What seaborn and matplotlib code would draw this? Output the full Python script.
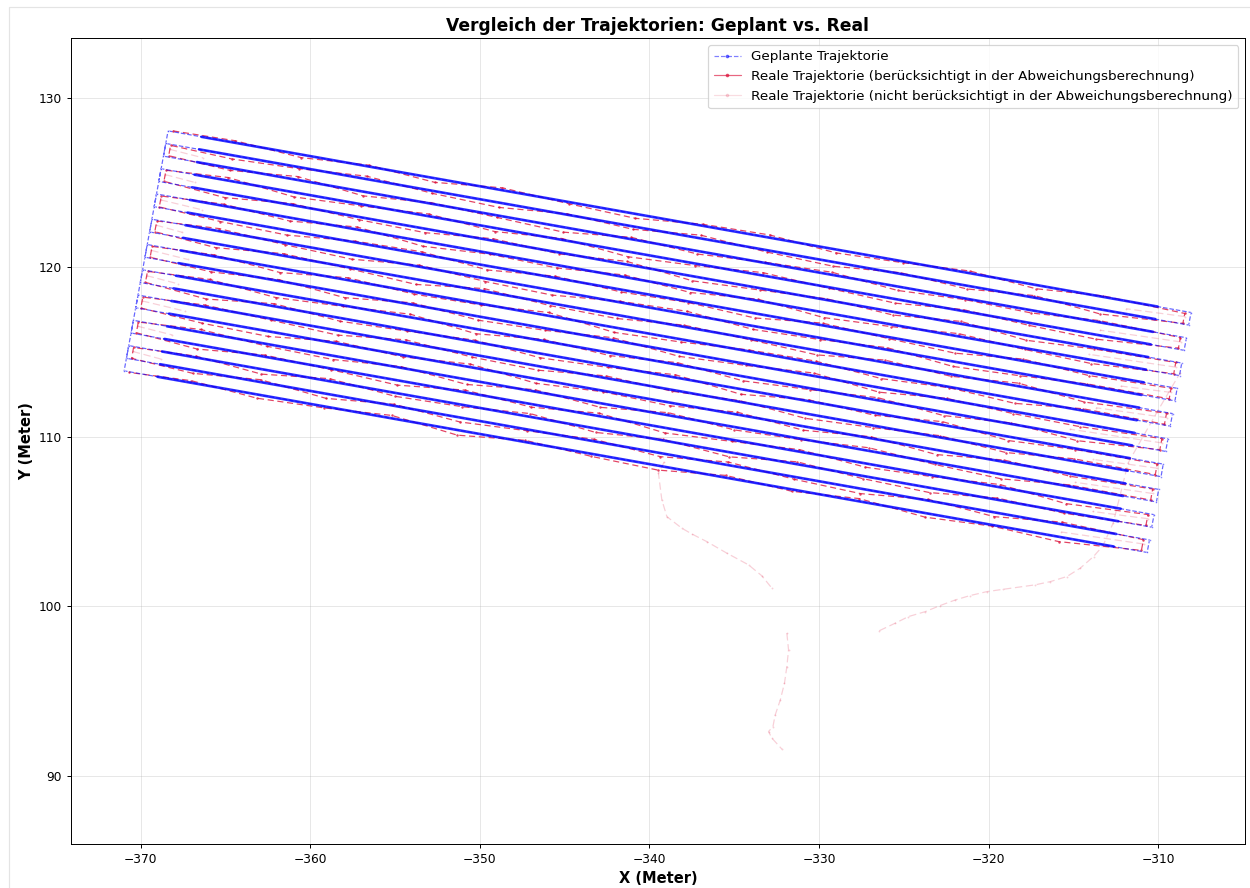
import numpy as np
import pandas as pd
import matplotlib
matplotlib.use("Agg")
import matplotlib.pyplot as plt
from matplotlib.lines import Line2D
from matplotlib.patches import Rectangle
import seaborn as sns

# Planned field lanes (meters), lane 0 is the northern one
lane_left_x = [-368.38, -368.52, -368.65, -368.79, -368.93, -369.06, -369.20, -369.33, -369.47, -369.61,
               -369.74, -369.88, -370.02, -370.15, -370.29, -370.42, -370.56, -370.70, -370.83, -370.97]
lane_left_y = [128.04, 127.30, 126.55, 125.81, 125.06, 124.32, 123.57, 122.83, 122.08, 121.34,
               120.59, 119.85, 119.10, 118.36, 117.61, 116.87, 116.12, 115.38, 114.63, 113.89]
lane_right_x = [-308.07, -308.21, -308.34, -308.48, -308.62, -308.75, -308.89, -309.02, -309.16, -309.30,
                -309.43, -309.57, -309.71, -309.84, -309.98, -310.11, -310.25, -310.39, -310.52, -310.66]
lane_right_y = [117.33, 116.59, 115.84, 115.10, 114.35, 113.61, 112.86, 112.12, 111.37, 110.63,
                109.88, 109.14, 108.39, 107.65, 106.90, 106.16, 105.41, 104.67, 103.92, 103.18]

# headland stretch at each lane end without dense waypoints (m)
dense_inset = 2.0

# real trajectory: stations along each lane (m from the west end)
stations = [0.3, 4, 8, 12, 16, 20, 24, 28, 32, 36, 40, 44, 48, 52, 56, 60.9]
# lateral deviation at those stations (cm, positive = north of the lane)
offsets_cm = [
    [5, 12, -18, 8, -24, 14, -10, -26, 9, 16, -20, -8, 13, -22, 6, -12],
    [-6, -22, -9, 17, -15, -28, 5, -17, 19, -11, -25, 7, -19, 12, -27, 4],
    [8, -14, 20, -25, 6, -12, -29, 11, -18, 4, 15, -23, -7, -16, 10, -5],
    [-4, 18, -27, -10, 13, -21, 8, -30, -12, 17, -6, -24, 9, -15, -26, 7],
    [6, -26, 9, -16, -23, 12, -8, 18, -27, -11, 7, -19, 14, -28, -9, -3],
    [-7, 10, -20, 15, -29, -6, -17, 12, -22, 9, -30, -13, 16, -8, -21, 5],
    [4, -18, -28, 7, 14, -24, 10, -14, -6, -27, 13, -9, -25, 11, -17, -6],
    [-5, 15, -11, -26, 9, -18, -28, 6, 17, -20, -10, 12, -29, -14, 8, 6],
    [7, -23, 12, -8, -30, 16, -15, -21, 10, -7, -26, 14, -12, 18, -24, -4],
    [-6, 9, -26, 14, -13, -7, 19, -29, -16, 8, 12, -22, -5, -28, 11, 5],
    [5, -17, 8, -29, 11, -22, -12, 15, -25, -9, 17, -27, 7, -13, -20, -5],
    [-4, 13, -24, -6, 18, -28, 9, -17, 12, -26, -8, 15, -21, 6, -29, 4],
    [6, -28, 15, -19, -7, 10, -25, -11, 16, -30, 8, -14, 19, -23, -6, -5],
    [-7, 11, -9, -27, 16, -16, -24, 13, -8, 7, -28, -12, 10, -20, 14, 6],
    [4, -21, -30, 12, -10, 18, -26, -6, -19, 14, -23, 9, -27, 11, -15, -4],
    [-5, 16, -13, -22, 7, -29, 11, -24, 15, -17, -5, 18, -11, -26, 9, 5],
    [7, -25, 10, -7, -28, 13, -18, 17, -30, -10, 12, -22, -8, 16, -27, -6],
    [-6, 8, -29, 15, -20, -11, 19, -23, 6, -27, 14, -16, -28, 10, -9, 4],
    [5, -19, 14, -27, 9, -26, -8, 12, -21, 18, -14, -29, 7, -25, 13, -5],
    [-4, 12, -22, -9, 17, -30, 10, -15, -26, 13, -11, 16, -24, -7, -28, 6],
]

# turning manoeuvres between lanes (excluded): how far they reach into the lane (m)
turn_reach = [3.5, 2.0, 4.8, 1.8, 5.2, 2.5, 3.0, 1.6, 4.2, 2.2, 5.5, 1.9, 3.8, 2.6, 4.6, 2.1, 3.3, 1.7, 4.9]

# drive to / from the field (excluded), NaN = no data
drive_a_x = [-339.13, -339.47, -339.27, -338.97, -338.09, -337.50, -336.62, -335.44, -334.16, -333.37, -332.78,
             np.nan, -331.90, -331.80, -331.90, -332.04, -332.29, -332.59, -332.72, -332.98, -332.78, -332.19]
drive_a_y = [108.52, 107.85, 106.28, 105.29, 104.61, 104.27, 103.82, 103.14, 102.45, 101.80, 101.07,
             np.nan, 98.42, 97.44, 96.45, 95.47, 94.47, 93.59, 92.91, 92.62, 92.23, 91.58]
drive_b_x = [-326.44, -325.51, -324.73, -323.74, -322.86, -321.97, -321.09, -320.11, -319.13, -317.26,
             -316.37, -315.39, -314.61, -313.82, -313.27, -312.66, -311.78, -310.07, -308.71]
drive_b_y = [98.57, 99.01, 99.40, 99.69, 100.05, 100.38, 100.64, 100.87, 101.01, 101.27,
             101.46, 101.76, 102.25, 102.94, 103.57, 104.92, 108.46, 111.47, 113.77]

PLAN_COLOR = "blue"
REAL_COLOR = "crimson"
DPI = 88


def lane_point(i, s, off):
    """Point at distance s along lane i, shifted off meters to the north."""
    a = np.array([lane_left_x[i], lane_left_y[i]])
    b = np.array([lane_right_x[i], lane_right_y[i]])
    u = (b - a) / np.linalg.norm(b - a)
    n = np.array([-u[1], u[0]])
    return a + s * u + off * n


def lane_length(i):
    return np.hypot(lane_right_x[i] - lane_left_x[i], lane_right_y[i] - lane_left_y[i])


def split_segments(xs, ys, start_unit=0):
    rows, unit = [], start_unit
    for x, y in zip(xs, ys):
        if np.isnan(x):
            unit += 1
            continue
        rows.append((x, y, unit))
    return rows, unit + 1


n_lanes = len(lane_left_x)

# planned snake path
plan_rows = []
for i in range(n_lanes):
    ends = [(lane_left_x[i], lane_left_y[i]), (lane_right_x[i], lane_right_y[i])]
    if i % 2:
        ends = ends[::-1]
    plan_rows += ends
plan_rows.append((lane_left_x[0], lane_left_y[0]))
plan_df = pd.DataFrame(plan_rows, columns=["x", "y"])

# dense waypoint stretches of the planned lanes
dense_rows = []
for i in range(n_lanes):
    for s in (dense_inset, lane_length(i) - dense_inset):
        x, y = lane_point(i, s, 0.0)
        dense_rows.append((x, y, i))
dense_df = pd.DataFrame(dense_rows, columns=["x", "y", "lane"])

# real trajectory used for the deviation
real_rows = []
for i in range(n_lanes):
    pairs = list(zip(stations, offsets_cm[i]))
    if i % 2:
        pairs = pairs[::-1]
    for s, off in pairs:
        x, y = lane_point(i, s, off / 100.0)
        real_rows.append((x, y))
real_df = pd.DataFrame(real_rows, columns=["x", "y"])

# real trajectory not used: turns + drive in/out
excl_rows = []
for k, reach in enumerate(turn_reach):
    length = lane_length(k)
    s_end = length - 0.3 if k % 2 == 0 else 0.3
    s_in = s_end - reach if k % 2 == 0 else s_end + reach
    for s, off in ((s_end, -0.30), (s_in, -0.45)):
        x, y = lane_point(k, s, off)
        excl_rows.append((x, y, k))
unit = len(turn_reach)
rows_a, unit = split_segments(drive_a_x, drive_a_y, unit)
rows_b, unit = split_segments(drive_b_x, drive_b_y, unit)
excl_df = pd.DataFrame(excl_rows + rows_a + rows_b, columns=["x", "y", "seg"])

# ---- plot ----
sns.set_style("white", rc={
    "axes.edgecolor": "black",
    "axes.linewidth": 0.8,
    "axes.labelcolor": "black",
    "text.color": "black",
    "xtick.bottom": True,
    "ytick.left": True,
    "xtick.major.size": 3.5,
    "ytick.major.size": 3.5,
    "xtick.color": "black",
    "ytick.color": "black",
})

fig = plt.figure(figsize=(1250 / DPI, 888 / DPI), dpi=DPI)
ax = fig.add_axes([0.05656, 0.04921, 0.93944, 0.90766])

sns.lineplot(data=excl_df, x="x", y="y", units="seg", estimator=None, sort=False,
             color=REAL_COLOR, alpha=0.2, linewidth=1.0, linestyle=(0, (6, 3)),
             marker=".", markersize=3, markeredgewidth=0, legend=False, ax=ax, zorder=1.5)
sns.lineplot(data=real_df, x="x", y="y", estimator=None, sort=False,
             color=REAL_COLOR, alpha=0.8, linewidth=1.0, linestyle=(0, (5, 3)),
             marker=".", markersize=4, markeredgewidth=0, legend=False, ax=ax, zorder=2)
sns.lineplot(data=plan_df, x="x", y="y", estimator=None, sort=False,
             color=PLAN_COLOR, alpha=0.6, linewidth=1.0, linestyle="--",
             marker=".", markersize=3, legend=False, ax=ax, zorder=3)
sns.lineplot(data=dense_df, x="x", y="y", units="lane", estimator=None, sort=False,
             color=PLAN_COLOR, alpha=0.8, linewidth=2.2, legend=False, ax=ax, zorder=3)

ax.set_xlim(-374.12, -304.89)
ax.set_ylim(85.97, 133.50)
ax.grid(True, color="#b0b0b0", alpha=0.3, linewidth=0.8)
ax.set_axisbelow(True)
ax.tick_params(labelsize=10)

ax.set_title("Vergleich der Trajektorien: Geplant vs. Real", fontsize=14, fontweight="bold")
ax.set_xlabel("X (Meter)", fontsize=12, fontweight="bold")
ax.set_ylabel("Y (Meter)", fontsize=12, fontweight="bold")

handles = [
    Line2D([], [], color=PLAN_COLOR, alpha=0.5, linestyle="--", marker=".", markersize=4, linewidth=1),
    Line2D([], [], color=REAL_COLOR, alpha=0.65, marker=".", markersize=4, linewidth=1),
    Line2D([], [], color=REAL_COLOR, alpha=0.15, marker=".", markersize=4, linewidth=1),
]
labels = [
    "Geplante Trajektorie",
    "Reale Trajektorie (berücksichtigt in der Abweichungsberechnung)",
    "Reale Trajektorie (nicht berücksichtigt in der Abweichungsberechnung)",
]
ax.legend(handles, labels, loc="upper right", fontsize=11)

# faint outer frame visible at the left and top of the image
fig.patches.append(Rectangle((9 / 1250, -0.1), 1.2, 1.1 - 7 / 888, transform=fig.transFigure,
                             fill=False, edgecolor="#e4e4e4", linewidth=1))

fig.savefig("out.png", dpi=DPI)
